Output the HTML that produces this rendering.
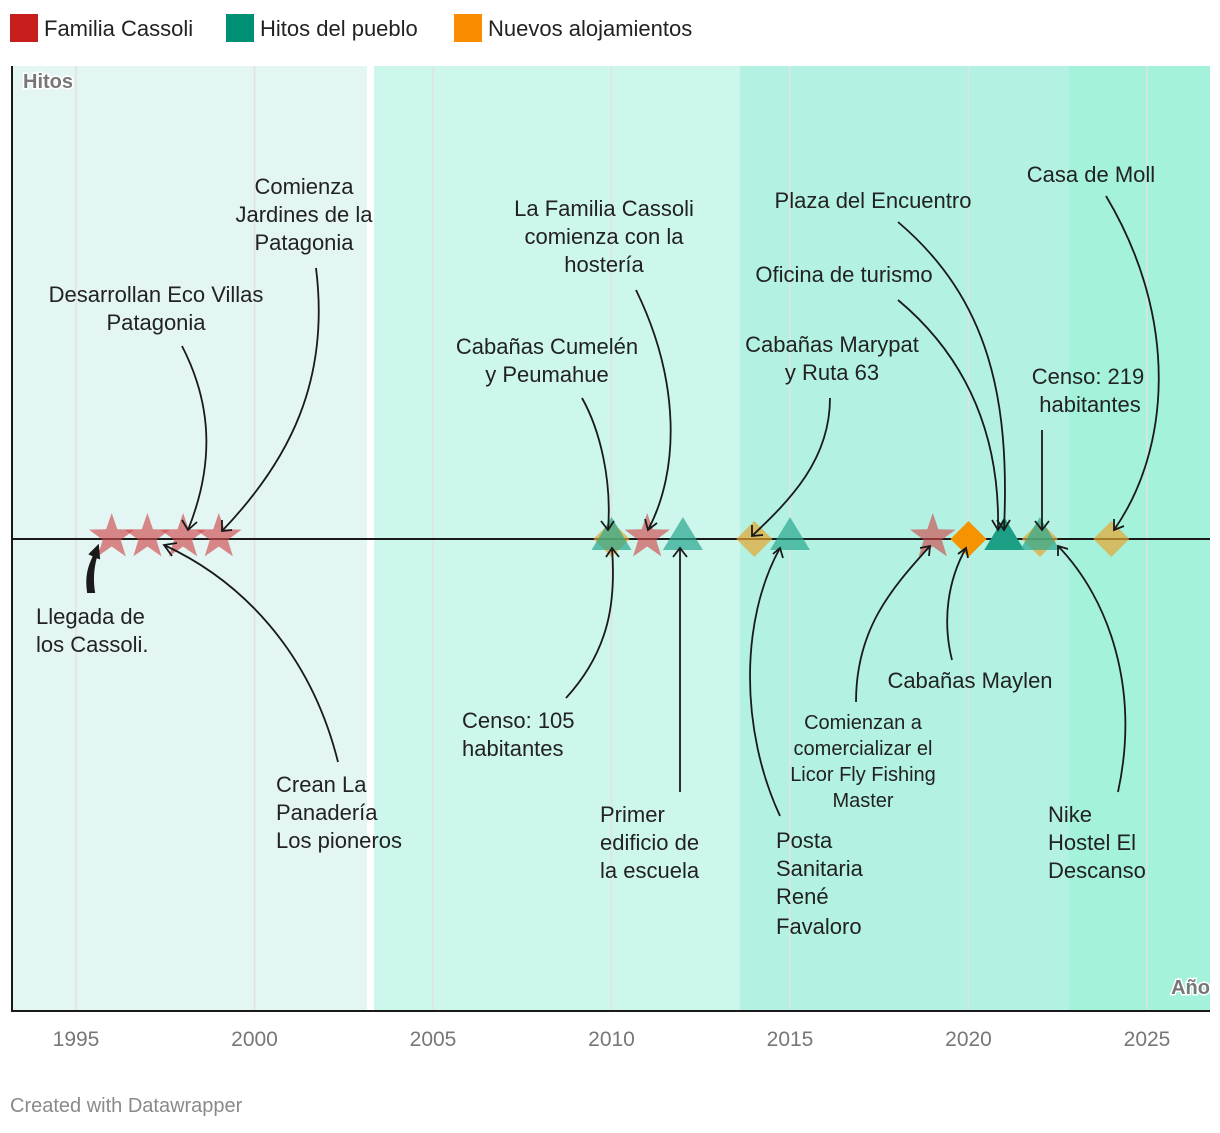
<!DOCTYPE html>
<html><head><meta charset="utf-8">
<style>
body{margin:0;background:#fff;font-family:"Liberation Sans",sans-serif;}
svg text{font-family:"Liberation Sans",sans-serif;}
</style></head>
<body>
<svg width="1220" height="1128" viewBox="0 0 1220 1128">
<g>
 <rect x="10" y="14" width="28" height="28" fill="#c71e1d"/>
 <text x="44" y="36" font-size="22" fill="#222">Familia Cassoli</text>
 <rect x="226" y="14" width="28" height="28" fill="#009076"/>
 <text x="260" y="36" font-size="22" fill="#222">Hitos del pueblo</text>
 <rect x="454" y="14" width="28" height="28" fill="#fa8c00"/>
 <text x="488" y="36" font-size="22" fill="#222">Nuevos alojamientos</text>
</g>
<g id="bands"></g>
<g id="grid"></g>
<text x="23" y="88" font-size="20" font-weight="bold" fill="#777" stroke="#fff" stroke-width="3" paint-order="stroke">Hitos</text>
<text x="1210" y="994" font-size="20" font-weight="bold" fill="#777" text-anchor="end" stroke="#fff" stroke-width="3" paint-order="stroke">Año</text>
<line x1="12" y1="66" x2="12" y2="1012" stroke="#1a1a1a" stroke-width="2"/>
<line x1="12" y1="1011" x2="1210" y2="1011" stroke="#1a1a1a" stroke-width="2"/>
<line x1="12" y1="539" x2="1210" y2="539" stroke="#1a1a1a" stroke-width="2"/>
<g id="ticks"></g>
<g id="marks"></g>
<g font-size="22" fill="#222" stroke="none">
 <g fill="none" stroke="#1a1a1a" stroke-width="1.8">
  <path d="M182 346 C215 410,212 470,188 530"/><path d="M182 520 L188 530 L197 522"/>
  <path d="M316 268 C330 380,290 460,222 531"/><path d="M222 520 L222 531 L232 530"/>
  <path d="M338 762 C310 650,240 580,164 545"/><path d="M172 556 L164 545 L177 543"/>
  <path d="M582 398 C600 430,612 480,608 530"/><path d="M601 521 L608 530 L614 521"/>
  <path d="M636 290 C680 380,680 470,648 530"/><path d="M645 519 L648 530 L657 523"/>
  <path d="M566 698 C610 650,616 600,612 548"/><path d="M606 557 L612 548 L619 557"/>
  <path d="M680 792 L680 548"/><path d="M673 557 L680 548 L687 557"/>
  <path d="M830 398 C830 460,790 500,752 536"/><path d="M752 525 L752 536 L763 535"/>
  <path d="M780 816 C740 730,740 620,780 548"/><path d="M773 554 L780 548 L783 558"/>
  <path d="M856 702 C856 630,890 590,930 546"/><path d="M920 548 L930 546 L929 556"/>
  <path d="M952 660 C942 620,948 580,966 548"/><path d="M958 554 L966 548 L968 558"/>
  <path d="M898 300 C970 360,1000 440,998 530"/><path d="M992 520 L998 530 L1004 520"/>
  <path d="M898 222 C990 300,1010 400,1004 530"/><path d="M997 520 L1004 530 L1010 520"/>
  <path d="M1042 430 L1042 530"/><path d="M1035 521 L1042 530 L1049 521"/>
  <path d="M1106 196 C1180 320,1170 450,1114 530"/><path d="M1114 519 L1114 530 L1124 526"/>
  <path d="M1118 792 C1140 690,1110 600,1058 546"/><path d="M1058 556 L1058 546 L1068 549"/>
 </g>
 <path d="M88 592 C86 578,88 568,94 556 L90 554 L98 546 L99 558 L96 557 C93 568,92 580,94 592 Z" fill="#1a1a1a" stroke="#1a1a1a" stroke-width="2"/>
 <text text-anchor="middle"><tspan x="304" y="194">Comienza</tspan><tspan x="304" y="222">Jardines de la</tspan><tspan x="304" y="250">Patagonia</tspan></text>
 <text text-anchor="middle"><tspan x="156" y="302">Desarrollan Eco Villas</tspan><tspan x="156" y="330">Patagonia</tspan></text>
 <text><tspan x="36" y="624">Llegada de</tspan><tspan x="36" y="652">los Cassoli.</tspan></text>
 <text><tspan x="276" y="792">Crean La</tspan><tspan x="276" y="820">Panadería</tspan><tspan x="276" y="848">Los pioneros</tspan></text>
 <text text-anchor="middle"><tspan x="604" y="216">La Familia Cassoli</tspan><tspan x="604" y="244">comienza con la</tspan><tspan x="604" y="272">hostería</tspan></text>
 <text text-anchor="middle"><tspan x="547" y="354">Cabañas Cumelén</tspan><tspan x="547" y="382">y Peumahue</tspan></text>
 <text><tspan x="462" y="728">Censo: 105</tspan><tspan x="462" y="756">habitantes</tspan></text>
 <text><tspan x="600" y="822">Primer</tspan><tspan x="600" y="850">edificio de</tspan><tspan x="600" y="878">la escuela</tspan></text>
 <text text-anchor="middle"><tspan x="873" y="208">Plaza del Encuentro</tspan></text>
 <text text-anchor="middle"><tspan x="844" y="282">Oficina de turismo</tspan></text>
 <text text-anchor="middle"><tspan x="832" y="352">Cabañas Marypat</tspan><tspan x="832" y="380">y Ruta 63</tspan></text>
 <text text-anchor="middle"><tspan x="1091" y="182">Casa de Moll</tspan></text>
 <text text-anchor="middle"><tspan x="1088" y="384">Censo: 219</tspan><tspan x="1090" y="412">habitantes</tspan></text>
 <text><tspan x="776" y="848">Posta</tspan><tspan x="776" y="876">Sanitaria</tspan><tspan x="776" y="904">René</tspan><tspan x="776" y="934">Favaloro</tspan></text>
 <text text-anchor="middle"><tspan x="970" y="688">Cabañas Maylen</tspan></text>
 <text text-anchor="middle" font-size="20"><tspan x="863" y="729">Comienzan a</tspan><tspan x="863" y="755">comercializar el</tspan><tspan x="863" y="781">Licor Fly Fishing</tspan><tspan x="863" y="807">Master</tspan></text>
 <text><tspan x="1048" y="822">Nike</tspan><tspan x="1048" y="850">Hostel El</tspan><tspan x="1048" y="878">Descanso</tspan></text>
</g>
<text x="10" y="1112" font-size="20" fill="#8a8a8a">Created with Datawrapper</text>
</svg>
<script>
const tickYears = [1995, 2000, 2005, 2010, 2015, 2020, 2025];
const bandStarts = [1993.2, 2003.35, 2013.6, 2022.8];
const bandEnds = [2003.15, 2013.6, 2022.8, 2026.8];
const bandColors = ["#e3f6f3", "#cdf6ec", "#b3f2e2", "#a4f1dc"];
const familiaYears = [1996, 1997, 1998, 1999, 2011, 2019];
const hitosYears = [2010, 2012, 2015, 2021, 2022];
const alojYears = [2010, 2014, 2020, 2022, 2024];
const hitosStrong = [false, false, false, true, false];
const alojStrong = [false, false, true, false, false];

const NS = "http://www.w3.org/2000/svg";
const x = y => 76 + (y - 1995) * 35.7;
const Y0 = 539;
function mk(tag, attrs, parent){const e=document.createElementNS(NS,tag);for(const k in attrs)e.setAttribute(k,attrs[k]);document.getElementById(parent).appendChild(e);return e;}

bandStarts.forEach((s,i)=>{
  const x1=Math.max(13,x(s)), x2=Math.min(1210,x(bandEnds[i]));
  const r=mk("rect",{x:x1,y:66,width:x2-x1,height:945,fill:bandColors[i]},"bands");
  
  
});
tickYears.forEach(t=>{
  const l=mk("line",{x1:x(t),x2:x(t),y1:66,y2:1011,stroke:"#e2e2e2","stroke-width":1.5},"grid");
  
  
  const tx=mk("text",{x:x(t),y:1046,"font-size":21,fill:"#777","text-anchor":"middle"},"ticks");
  tx.textContent=t;
  
  
});
alojYears.forEach((yr,i)=>{
  const cx=x(yr), s=18;
  const p=mk("path",{d:`M${cx} ${Y0-s} L${cx+s} ${Y0} L${cx} ${Y0+s} L${cx-s} ${Y0} Z`,fill:alojStrong[i]?"#f59300":"#e6a630","fill-opacity":alojStrong[i]?1:0.7},"marks");
  
  
});
hitosYears.forEach((yr,i)=>{
  const cx=x(yr);
  const p=mk("path",{d:`M${cx} ${Y0-22} L${cx+20} ${Y0+11} L${cx-20} ${Y0+11} Z`,fill:hitosStrong[i]?"#1d9f85":"#2aa88e","fill-opacity":hitosStrong[i]?1:0.7},"marks");
  
  
});
familiaYears.forEach(yr=>{
  const cx=x(yr), cy=Y0-2, R=24, r=9.5; let d="";
  for(let k=0;k<10;k++){const a=-Math.PI/2+k*Math.PI/5, rr=k%2?r:R;d+=(k?"L":"M")+(cx+rr*Math.cos(a)).toFixed(1)+" "+(cy+rr*Math.sin(a)).toFixed(1);}
  const p=mk("path",{d:d+"Z",fill:"#cf4a4d","fill-opacity":0.65},"marks");
  
  
});
</script>
</body></html>
